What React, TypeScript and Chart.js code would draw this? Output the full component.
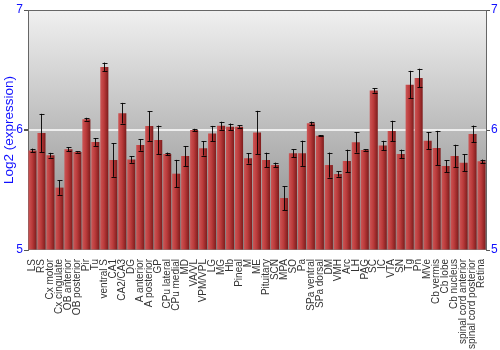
import React, { useEffect, useRef } from "react";
import { Chart, registerables } from "chart.js";

Chart.register(...registerables);

const labels = [
  "LS", "RS", "Cx motor", "Cx cingulate", "OB anterior", "OB posterior", "Pir", "Tu",
  "ventral S", "CA1", "CA2/CA3", "DG", "A anterior", "A posterior", "GP", "CPu lateral",
  "CPu medial", "MD", "VA/VL", "VPM/VPL", "LG", "MG", "Hb", "Pineal", "M", "ME",
  "Pituitary", "SCN", "MPA", "SO", "Pa", "SPa ventral", "SPa dorsal", "DM", "VMH", "Arc",
  "LH", "PAG", "SC", "IC", "VTA", "SN", "Tg", "Pn", "MVe", "Cb vermis", "Cb lobe",
  "Cb nucleus", "spinal cord anterior", "spinal cord posterior", "Retina",
];

const values = [
  5.83, 5.975, 5.79, 5.52, 5.84, 5.817, 6.09, 5.9,
  6.525, 5.75, 6.14, 5.755, 5.875, 6.033, 5.917, 5.8,
  5.636, 5.783, 6.0, 5.847, 5.97, 6.036, 6.028, 6.028, 5.764, 5.98,
  5.75, 5.708, 5.433, 5.806, 5.806, 6.056, 5.953, 5.708, 5.633, 5.742,
  5.897, 5.833, 6.33, 5.87, 5.992, 5.8, 6.378, 6.433, 5.911, 5.85, 5.7,
  5.783, 5.728, 5.967, 5.739,
];

const errors = [
  0.015, 0.16, 0.02, 0.06, 0.017, 0.005, 0.012, 0.033,
  0.037, 0.14, 0.086, 0.028, 0.047, 0.124, 0.12, 0.012,
  0.115, 0.083, 0.01, 0.06, 0.064, 0.033, 0.026, 0.01, 0.044, 0.18,
  0.061, 0.02, 0.1, 0.032, 0.105, 0.014, 0.004, 0.104, 0.022, 0.094,
  0.085, 0.005, 0.018, 0.04, 0.085, 0.036, 0.115, 0.078, 0.072, 0.143, 0.05,
  0.094, 0.072, 0.07, 0.015,
];

const yTicks = [5, 6, 7];

const FONT = "'Liberation Sans', Arial, sans-serif";
const BLUE = "#1010ff";

const bgPlugin = {
  id: "bgGradient",
  beforeDraw(chart: any) {
    const { ctx, chartArea } = chart;
    if (!chartArea) return;
    const g = ctx.createLinearGradient(0, chartArea.top, 0, chartArea.bottom);
    g.addColorStop(0, "#f0f0f0");
    g.addColorStop(1, "#868686");
    ctx.save();
    ctx.fillStyle = g;
    ctx.fillRect(chartArea.left, chartArea.top, chartArea.right - chartArea.left, chartArea.bottom - chartArea.top);
    ctx.restore();
  },
};

const errorBarPlugin = {
  id: "errorBars",
  afterDatasetsDraw(chart: any) {
    const { ctx } = chart;
    const meta = chart.getDatasetMeta(0);
    const yScale = chart.scales.y;
    ctx.save();
    ctx.strokeStyle = "rgba(0,0,0,0.9)";
    ctx.lineWidth = 1;
    meta.data.forEach((bar: any, i: number) => {
      const x = Math.round(bar.x) + 0.5;
      const yTop = yScale.getPixelForValue(values[i] + errors[i]);
      const yBot = yScale.getPixelForValue(values[i] - errors[i]);
      const cap = 2;
      ctx.beginPath();
      ctx.moveTo(x, yTop);
      ctx.lineTo(x, yBot);
      ctx.moveTo(x - cap, Math.round(yTop) + 0.5);
      ctx.lineTo(x + cap + 1, Math.round(yTop) + 0.5);
      ctx.moveTo(x - cap, Math.round(yBot) + 0.5);
      ctx.lineTo(x + cap + 1, Math.round(yBot) + 0.5);
      ctx.stroke();
    });
    ctx.restore();
  },
};

export default function App() {
  const ref = useRef<HTMLCanvasElement | null>(null);

  useEffect(() => {
    document.body.style.margin = "0";
    const canvas = ref.current;
    if (!canvas) return;

    const chart = new Chart(canvas, {
      type: "bar",
      data: {
        labels,
        datasets: [
          {
            data: values,
            base: 5,
            backgroundColor: (ctx: any) => {
              const c = ctx.chart;
              const xs = c.scales && c.scales.x;
              if (!xs || ctx.dataIndex === undefined) return "#b83a3a";
              const cx = xs.getPixelForValue(ctx.dataIndex);
              if (!isFinite(cx)) return "#b83a3a";
              const w = 8;
              const g = c.ctx.createLinearGradient(cx - w / 2, 0, cx + w / 2, 0);
              g.addColorStop(0, "#cc5555");
              g.addColorStop(0.45, "#bb3b3b");
              g.addColorStop(1, "#7e1c1c");
              return g;
            },
            borderWidth: 0,
            barPercentage: 0.9,
            categoryPercentage: 1.0,
          },
        ],
      },
      options: {
        animation: false,
        responsive: false,
        devicePixelRatio: 1,
        layout: { padding: { top: 10, left: 0, right: 0, bottom: 0 } },
        plugins: {
          legend: { display: false },
          tooltip: { enabled: false },
        },
        scales: {
          x: {
            offset: true,
            grid: { display: false },
            border: { display: false },
            ticks: {
              autoSkip: false,
              maxRotation: 90,
              minRotation: 90,
              padding: 1,
              color: "#333333",
              font: { family: FONT, size: 10 },
            },
            afterFit: (s: any) => {
              s.height = 100;
            },
          },
          y: {
            position: "left",
            min: 5,
            max: 7,
            afterBuildTicks: (s: any) => {
              s.ticks = yTicks.map((v) => ({ value: v }));
            },
            ticks: {
              color: BLUE,
              padding: 1,
              font: { family: FONT, size: 12 },
            },
            grid: {
              color: (c: any) =>
                c.tick && c.tick.value === 6 ? "#eeeeee" : c.tick && c.tick.value === 7 ? "#666666" : "rgba(0,0,0,0)",
              lineWidth: (c: any) => (c.tick && c.tick.value === 6 ? 2 : 1),
              tickColor: "#555555",
              tickLength: 4,
            },
            border: { display: true, color: "#666666", width: 1 },
            title: {
              display: true,
              text: "Log2 (expression)",
              color: BLUE,
              padding: { top: 1, bottom: 0 },
              font: { family: FONT, size: 13.5 },
            },
            afterFit: (s: any) => {
              s.width = 28;
            },
          },
          y2: {
            position: "right",
            min: 5,
            max: 7,
            afterBuildTicks: (s: any) => {
              s.ticks = yTicks.map((v) => ({ value: v }));
            },
            ticks: {
              color: BLUE,
              padding: 1,
              font: { family: FONT, size: 12 },
            },
            grid: {
              drawOnChartArea: false,
              tickColor: "#555555",
              tickLength: 4,
            },
            border: { display: true, color: "#666666", width: 1 },
            afterFit: (s: any) => {
              s.width = 14;
            },
          },
        },
      },
      plugins: [bgPlugin, errorBarPlugin],
    });

    return () => chart.destroy();
  }, []);

  return (
    <div style={{ width: 500, height: 350 }}>
      <canvas ref={ref} width={500} height={350} style={{ display: "block" }} />
    </div>
  );
}
